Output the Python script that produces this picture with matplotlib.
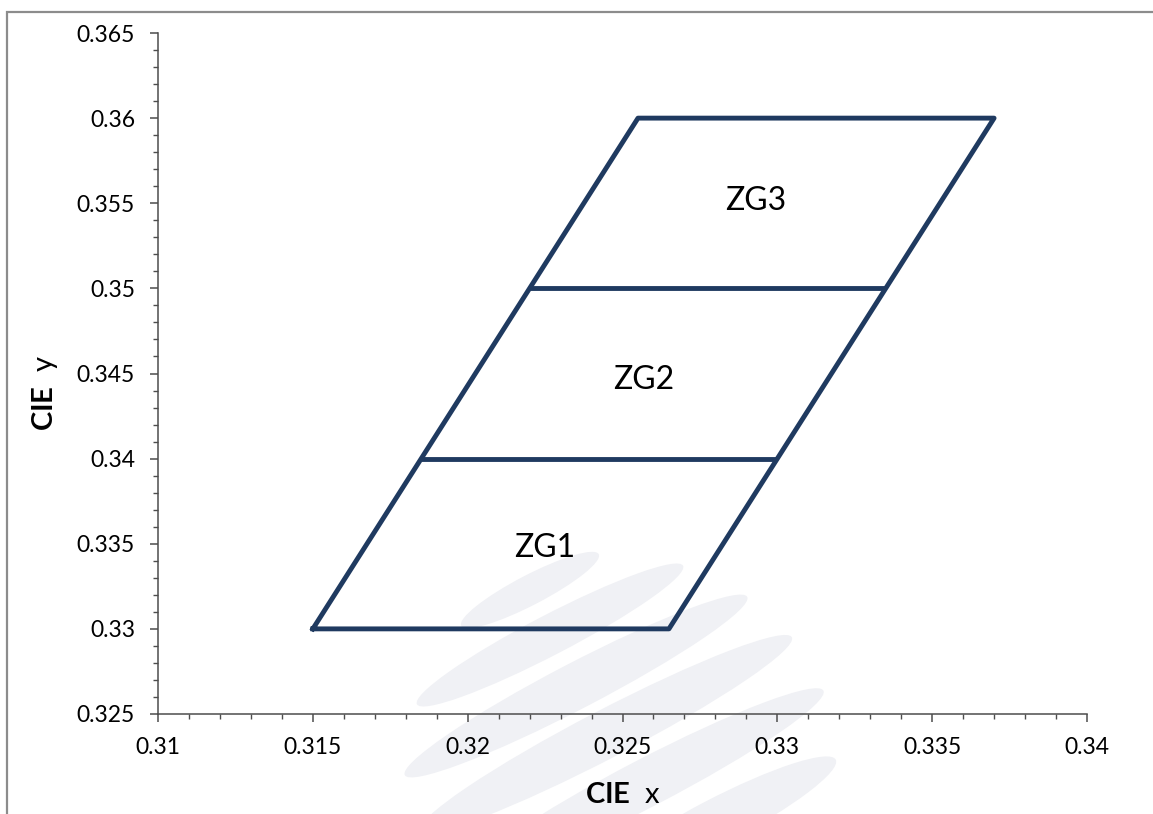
import numpy as np
import matplotlib
matplotlib.use("Agg")
import matplotlib.pyplot as plt
from matplotlib.patches import Ellipse
from matplotlib.ticker import MultipleLocator, FuncFormatter

plt.rcParams['font.family'] = ['Lato', 'DejaVu Sans']
plt.rcParams['mathtext.fontset'] = 'custom'
plt.rcParams['mathtext.rm'] = 'Lato'
plt.rcParams['mathtext.bf'] = 'Lato:bold'

# bin outline (CIE x, CIE y), closed
outline_x = [0.315, 0.3265, 0.337, 0.3255, 0.315]
outline_y = [0.33, 0.33, 0.36, 0.36, 0.33]

# horizontal dividers between bins
divider_y = [0.34, 0.35]
divider_x0 = [0.3185, 0.322]
divider_x1 = [0.330, 0.3335]

zone_names = ['ZG1', 'ZG2', 'ZG3']
zone_x = [0.3225, 0.3257, 0.3293]
zone_y = [0.3342, 0.3441, 0.3546]

x_ticks = [0.31, 0.315, 0.32, 0.325, 0.33, 0.335, 0.34]
y_ticks = [0.325, 0.33, 0.335, 0.34, 0.345, 0.35, 0.355, 0.36, 0.365]

line_col = '#1f3a60'
axis_col = '#4d4d4d'

W, H = 1153, 814
fig = plt.figure(figsize=(W / 100, H / 100), dpi=100)

# background layer in pixel units: frame + faint watermark
bg = fig.add_axes([0, 0, 1, 1], zorder=0)
bg.set_xlim(0, W)
bg.set_ylim(H, 0)
bg.axis('off')
bg.plot([7, 7, W + 5], [H + 5, 12, 12], color='#8c8c8c', lw=1.6, solid_joinstyle='miter')
# (cx, cy, length, thickness)
wm = [(530, 590, 155, 30), (550, 635, 300, 40), (576, 686, 386, 46),
      (606, 734, 419, 48), (646, 783, 400, 48), (716, 822, 270, 46)]
for cx, cy, ln, th in wm:
    bg.add_patch(Ellipse((cx, cy), ln, th, angle=-27.5, facecolor='#f0f1f5',
                         edgecolor='none'))

ax = fig.add_axes([158 / W, 1 - 714 / H, 929 / W, 681 / H], zorder=1)
ax.patch.set_alpha(0)

ax.plot(outline_x, outline_y, color=line_col, lw=3.5)
for yv, x0, x1 in zip(divider_y, divider_x0, divider_x1):
    ax.plot([x0, x1], [yv, yv], color=line_col, lw=3.5, solid_capstyle='butt')

for name, xv, yv in zip(zone_names, zone_x, zone_y):
    ax.text(xv, yv, name, fontsize=23, ha='center', va='baseline')

ax.set_xlim(x_ticks[0], x_ticks[-1])
ax.set_ylim(y_ticks[0], y_ticks[-1])
ax.set_xticks(x_ticks)
ax.set_yticks(y_ticks)
ax.xaxis.set_minor_locator(MultipleLocator(0.001))
ax.yaxis.set_minor_locator(MultipleLocator(0.001))
fmt = FuncFormatter(lambda v, p: f"{v:g}")
ax.xaxis.set_major_formatter(fmt)
ax.yaxis.set_major_formatter(fmt)

for s in ['top', 'right']:
    ax.spines[s].set_visible(False)
for s in ['left', 'bottom']:
    ax.spines[s].set_color(axis_col)
    ax.spines[s].set_linewidth(1.1)

ax.tick_params(which='major', length=5.5, width=1.1, color=axis_col, labelsize=16.5)
ax.tick_params(which='minor', length=3.5, width=1.0, color=axis_col)
ax.tick_params(axis='x', which='major', pad=11)
ax.tick_params(axis='y', which='major', pad=11)

ax.text(0.5, -0.131, r'$\mathbf{CIE}$  x', transform=ax.transAxes,
        fontsize=21, ha='center', va='baseline')
ax.text(-0.122, 0.471, r'$\mathbf{CIE}$  y', transform=ax.transAxes,
        fontsize=21, ha='center', va='center', rotation=90)

fig.savefig('out.png', dpi=100)
